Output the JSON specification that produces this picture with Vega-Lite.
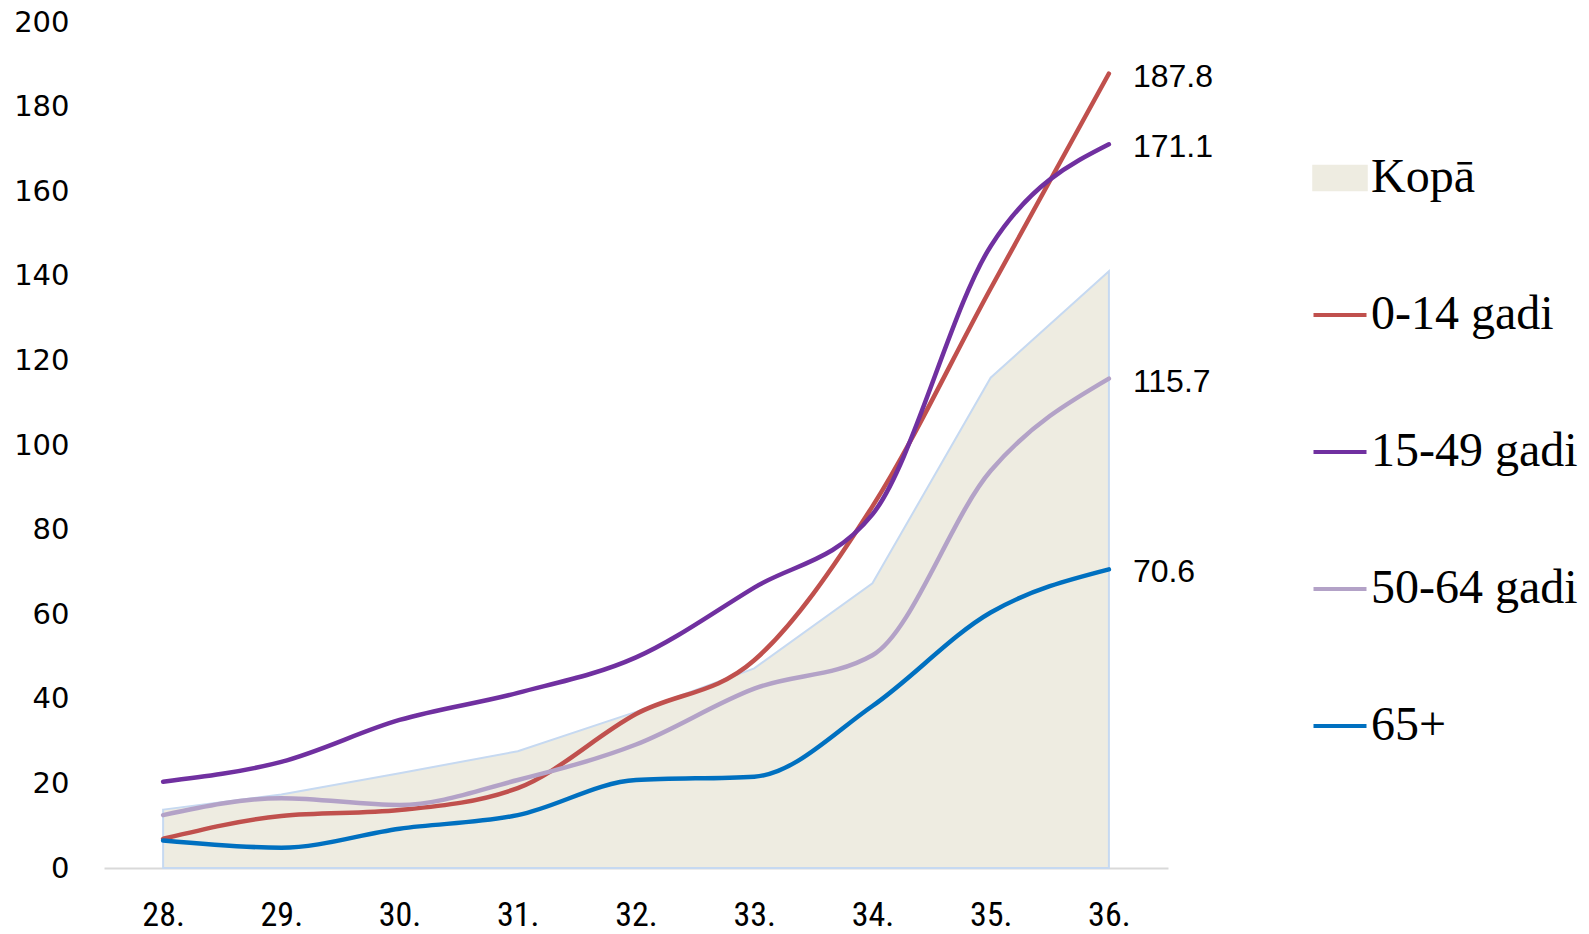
{
  "$schema": "https://vega.github.io/schema/vega-lite/v6.json",
  "autosize": "none",
  "width": 1064,
  "height": 846,
  "padding": {"left": 104, "top": 22, "right": 421, "bottom": 66},
  "background": "white",
  "config": {"view": {"stroke": null}},
  "data": {"values": [
    {"week": "28.", "group": "Kopā", "value": 13.8},
    {"week": "29.", "group": "Kopā", "value": 17.4},
    {"week": "30.", "group": "Kopā", "value": 22.4},
    {"week": "31.", "group": "Kopā", "value": 27.6},
    {"week": "32.", "group": "Kopā", "value": 36.9},
    {"week": "33.", "group": "Kopā", "value": 47.2},
    {"week": "34.", "group": "Kopā", "value": 67.3},
    {"week": "35.", "group": "Kopā", "value": 115.9},
    {"week": "36.", "group": "Kopā", "value": 141.1},
    {"week": "28.", "group": "0-14 gadi", "value": 6.9},
    {"week": "29.", "group": "0-14 gadi", "value": 12.3},
    {"week": "30.", "group": "0-14 gadi", "value": 13.7},
    {"week": "31.", "group": "0-14 gadi", "value": 18.9},
    {"week": "32.", "group": "0-14 gadi", "value": 36.4},
    {"week": "33.", "group": "0-14 gadi", "value": 49.1},
    {"week": "34.", "group": "0-14 gadi", "value": 85.5},
    {"week": "35.", "group": "0-14 gadi", "value": 137.0},
    {"week": "36.", "group": "0-14 gadi", "value": 187.8},
    {"week": "28.", "group": "15-49 gadi", "value": 20.4},
    {"week": "29.", "group": "15-49 gadi", "value": 25.1},
    {"week": "30.", "group": "15-49 gadi", "value": 35.0},
    {"week": "31.", "group": "15-49 gadi", "value": 41.4},
    {"week": "32.", "group": "15-49 gadi", "value": 49.8},
    {"week": "33.", "group": "15-49 gadi", "value": 66.3},
    {"week": "34.", "group": "15-49 gadi", "value": 83.6},
    {"week": "35.", "group": "15-49 gadi", "value": 147.0},
    {"week": "36.", "group": "15-49 gadi", "value": 171.1},
    {"week": "28.", "group": "50-64 gadi", "value": 12.5},
    {"week": "29.", "group": "50-64 gadi", "value": 16.5},
    {"week": "30.", "group": "50-64 gadi", "value": 14.9},
    {"week": "31.", "group": "50-64 gadi", "value": 20.8},
    {"week": "32.", "group": "50-64 gadi", "value": 29.2},
    {"week": "33.", "group": "50-64 gadi", "value": 42.4},
    {"week": "34.", "group": "50-64 gadi", "value": 50.3},
    {"week": "35.", "group": "50-64 gadi", "value": 93.9},
    {"week": "36.", "group": "50-64 gadi", "value": 115.7},
    {"week": "28.", "group": "65+", "value": 6.5},
    {"week": "29.", "group": "65+", "value": 4.8},
    {"week": "30.", "group": "65+", "value": 9.3},
    {"week": "31.", "group": "65+", "value": 12.5},
    {"week": "32.", "group": "65+", "value": 20.8},
    {"week": "33.", "group": "65+", "value": 21.6},
    {"week": "34.", "group": "65+", "value": 38.3},
    {"week": "35.", "group": "65+", "value": 60.4},
    {"week": "36.", "group": "65+", "value": 70.6}
  ]},
  "encoding": {
    "x": {"field": "week", "type": "ordinal", "scale": {"type": "point", "padding": 0.5},
      "axis": {"title": null, "labelAngle": 0, "ticks": false, "tickSize": 0, "labelPadding": 47, "labelBaseline": "middle",
        "labelFont": "Liberation Sans Narrow, Roboto Condensed, Liberation Sans", "labelFontSize": 34, "labelColor": "#000000",
        "domainColor": "#D9D9D9", "domainWidth": 2, "grid": false}},
    "y": {"field": "value", "type": "quantitative", "scale": {"domain": [0, 200], "nice": false},
      "axis": {"title": null, "values": [0, 20, 40, 60, 80, 100, 120, 140, 160, 180, 200], "domain": false, "ticks": false, "tickSize": 0,
        "grid": false, "labelPadding": 35, "labelFont": "DejaVu Sans", "labelFontSize": 29, "labelColor": "#000000"}}
  },
  "layer": [
    {
      "transform": [{"filter": "datum.group === 'Kopā'"}],
      "mark": {"type": "area", "fill": "#EEECE1", "stroke": "#C6D9F1", "strokeWidth": 2, "opacity": 1, "interpolate": "linear"},
      "encoding": {}
    },
    {
      "transform": [{"filter": "datum.group !== 'Kopā'"}],
      "mark": {"type": "line", "strokeWidth": 4.5, "interpolate": "monotone", "strokeCap": "round"},
      "encoding": {
        "color": {"field": "group", "type": "nominal",
          "scale": {"domain": ["Kopā", "0-14 gadi", "15-49 gadi", "50-64 gadi", "65+"], "range": ["#EEECE1", "#C0504D", "#7030A0", "#B3A2C7", "#0070C0"]},
          "legend": {"title": null, "orient": "none", "legendX": 1212, "legendY": 132, "direction": "vertical", "padding": 0,
            "symbolSize": 2809, "symbolType": "stroke", "symbolStrokeWidth": 4, "labelFont": "Liberation Serif", "labelFontSize": 48,
            "labelColor": "#000000", "labelOffset": 7, "rowPadding": 89, "labelLimit": 400,
            "encode": {"symbols": {"update": {
              "shape": {"signal": "datum.value === 'Kopā' ? 'M-1,-0.45H1V0.45H-1Z' : 'M-1,0H1'"},
              "fill": {"signal": "datum.value === 'Kopā' ? '#EEECE1' : 'transparent'"},
              "stroke": {"signal": "datum.value === 'Kopā' ? '#C6D9F1' : scale('color', datum.value)"},
              "strokeWidth": {"signal": "datum.value === 'Kopā' ? 2.5 : 4"},
              "opacity": {"value": 1}
            }}}}
        },
        "order": {"field": "week"}
      }
    },
    {
      "transform": [{"filter": "datum.group !== 'Kopā' && datum.week === '36.'"}],
      "mark": {"type": "text", "align": "left", "baseline": "middle", "dx": 24, "dy": 3, "font": "Liberation Sans", "fontSize": 32, "color": "#000000"},
      "encoding": {"text": {"field": "value", "type": "quantitative", "format": ".1f"}}
    }
  ]
}
